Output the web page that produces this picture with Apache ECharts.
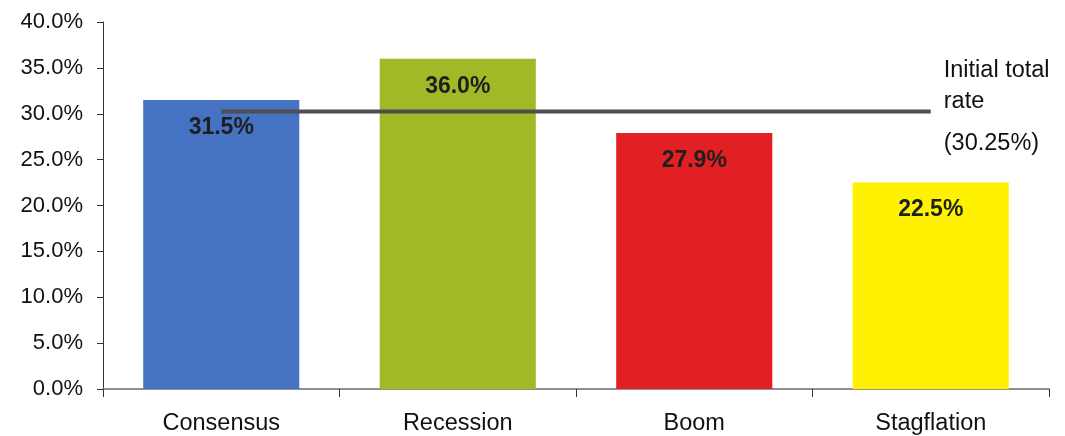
<!DOCTYPE html>
<html><head><meta charset="utf-8">
<script src="https://cdn.jsdelivr.net/npm/echarts@6/dist/echarts.min.js"></script>
<style>html,body{margin:0;padding:0;background:#fff}#c{width:1065px;height:436px}</style>
</head><body><div id="c"></div>
<script>
var categories = ['Consensus','Recession','Boom','Stagflation'];
var values = [31.5, 36.0, 27.9, 22.5];
var colors = ['#4672c4','#a3b826','#e21f23','#fff200'];
var initialRate = 30.25;
var yTicks = {min:0, max:40, interval:5};

var chart = echarts.init(document.getElementById('c'));
var font = 'Liberation Sans, Arial, sans-serif';
chart.setOption({
  animation:false,
  grid:{left:103,right:16,top:22,bottom:47,containLabel:false},
  xAxis:{type:'category',data:categories,
    axisLine:{lineStyle:{color:'#8f8f8f',width:2}},
    axisTick:{show:true,length:8,lineStyle:{color:'#333'}},
    axisLabel:{color:'#111',fontSize:23.5,fontFamily:font,margin:23}},
  yAxis:{type:'value',min:yTicks.min,max:yTicks.max,interval:yTicks.interval,
    axisLine:{show:true,lineStyle:{color:'#333',width:1}},
    axisTick:{show:true,length:6,lineStyle:{color:'#333'}},
    splitLine:{show:false},
    axisLabel:{color:'#111',fontSize:22,fontFamily:font,margin:20,
      formatter:function(v){return v.toFixed(1)+'%';}}},
  series:[
    {type:'bar',barWidth:'66%',
     data:values.map(function(v,i){return {value:v,itemStyle:{color:colors[i]}};}),
     label:{show:true,position:'insideTop',distance:16,color:'#1e1e1e',fontWeight:'bold',
       fontSize:23,fontFamily:font,formatter:function(p){return p.value.toFixed(1)+'%';}}},
    {type:'line',data:categories.map(function(){return initialRate;}),
     symbol:'none',lineStyle:{color:'#4f4f4f',width:4},z:5,
     endLabel:{show:true,distance:13,offset:[0,1],fontFamily:font,color:'#111',
       formatter:'{a|Initial total}\n{a|rate}\n{b|(30.25%)}',
       rich:{a:{fontSize:23.5,lineHeight:31,fontFamily:font,color:'#111'},
             b:{fontSize:23.5,lineHeight:53,fontFamily:font,color:'#111'}}}}
  ]
});
</script></body></html>
